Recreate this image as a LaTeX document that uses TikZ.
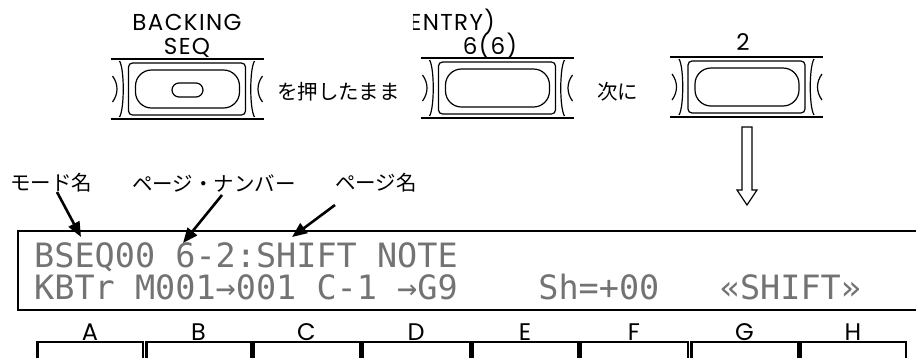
\documentclass[tikz,border=0pt]{standalone}
\usepackage{fontspec}
\setmainfont{Poppins}
\newfontfamily\jpfont{Noto Sans CJK JP}
\newfontfamily\lcdfont{DejaVu Sans Mono}
\usetikzlibrary{arrows.meta}
\tikzset{
  lbl/.style={inner sep=0pt, anchor=base, font=\fontsize{23}{25}\selectfont\addfontfeature{LetterSpace=6}},
  keylbl/.style={inner sep=0pt, anchor=base, font=\fontsize{24}{26}\selectfont},
  jptxt/.style={inner sep=0pt, font=\jpfont\fontsize{20.5}{22}\selectfont},
  lcdtxt/.style={inner sep=0pt, text=black!55, font=\lcdfont\fontsize{33.5}{34}\selectfont},
  callout/.style={line width=2.6pt, -{Triangle[length=15pt,width=12pt]}},
  btnline/.style={line width=1.2pt},
  softkey/.style={line width=1.8pt},
  kbtn/.pic={
    \draw[btnline] (-77,-30) -- (76,-30);
    \draw[btnline] (-77,30) -- (76,30);
    \draw[btnline, rounded corners=4] (-59,-26) rectangle (58,26);
    \draw[btnline, rounded corners=16] (-52,-19) rectangle (52,19);
    \draw[btnline] (-75,-13) .. controls (-69,-5) and (-69,5) .. (-75,13);
    \draw[btnline] (-68,-28) .. controls (-63,-20) and (-63,20) .. (-68,28);
    \draw[btnline] (67,-28) .. controls (62,-20) and (62,20) .. (67,28);
    \draw[btnline] (75,-13) .. controls (69,-5) and (69,5) .. (75,13);
  }
}
\begin{document}
\begin{tikzpicture}[x=1pt,y=-1pt]
\useasboundingbox (0,0) rectangle (916,357);
\fill[white] (0,0) rectangle (916,357);

% top buttons
\pic (b1) at (187.5,89) {kbtn};
\draw[btnline, rounded corners=7] (172,83) rectangle (203,97);
\pic (b2) at (497.5,88) {kbtn};
\pic (b3) at (747,87) {kbtn};

\node[lbl] (backing) at (187,30) {BACKING};
\node[lbl] (seq) at (187,54) {SEQ};
\begin{scope}
  \clip (413,2) rectangle (520,36);
  \node[lbl, anchor=base east] (entry) at (495,30) {ENTRY)};
\end{scope}
\node[lbl] (six) at (490,54) {6(6)};
\node[lbl] (two) at (743,50) {2};

\node[jptxt, anchor=west] (oshi) at (277,92) {を押したまま};
\node[jptxt, anchor=west] (tsugi) at (597,92) {次に};

% hollow arrow
\draw[btnline] (742,127) -- (752,127) -- (752,190) -- (757,190) -- (747,205) -- (737,190) -- (742,190) -- cycle;

% callout labels
\node[jptxt, anchor=west] (mode) at (10,183) {モード名};
\node[jptxt, anchor=west] (pnum) at (132,183) {ページ・ナンバー};
\node[jptxt, anchor=west] (pname) at (335,183) {ページ名};

\coordinate (c1s) at (57,192);
\coordinate (c1t) at (81,237);
\coordinate (c2s) at (222,195);
\coordinate (c2t) at (183,243);
\coordinate (c3s) at (335,205);
\coordinate (c3t) at (292,237);
\draw[callout] (c1s) -- (c1t);
\draw[callout] (c2s) -- (c2t);
\draw[callout] (c3s) -- (c3t);

% display
\draw[line width=1.8pt] (916,231) -- (18,231) -- (18,310) -- (916,310);
\node[lcdtxt, anchor=base west] (line1) at (34,267) {BSEQ00~6-2:SHIFT~NOTE};
\node[lcdtxt, anchor=base west] (line2) at (34,299) {KBTr~M001→001~C-1~→G9~~~~Sh=+00~~~«SHIFT»};

% soft keys
\foreach \nm/\xa/\xb in {A/37/143, B/146/251, C/253/360, D/362/470, E/472/578, F/580/688, G/691/798, H/800/906}{
  \draw[softkey] (\xa,360) -- (\xa,342) -- (\xb,342) -- (\xb,360);
  \draw[line width=3pt] (\xa,342) -- (\xa,360);
  \node[keylbl] (key\nm) at ({(\xa+\xb)/2},340) {\nm};
}
\end{tikzpicture}
\end{document}
